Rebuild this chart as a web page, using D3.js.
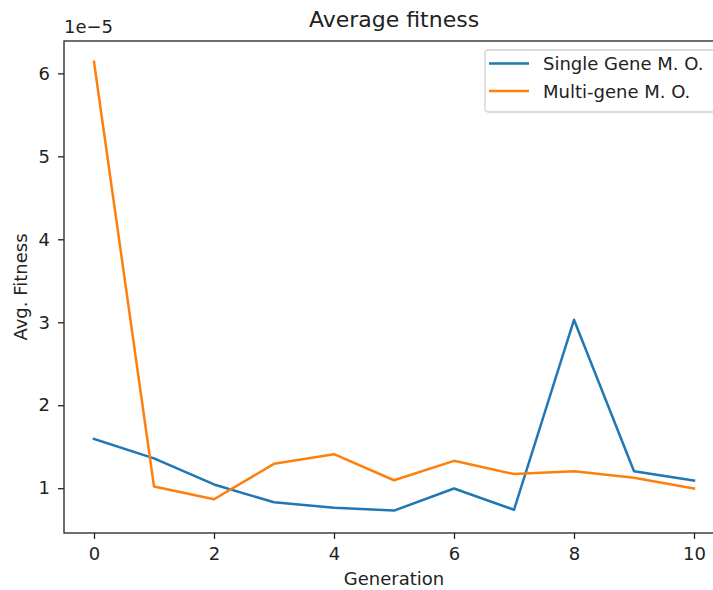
<!DOCTYPE html>
<html>
<head>
<meta charset="utf-8">
<script src="https://cdn.jsdelivr.net/npm/d3@7"></script>
<style>
  body { margin: 0; background: #fff; }
  svg { display: block; font-family: "DejaVu Sans", sans-serif; }
</style>
</head>
<body>
<div id="chart"></div>
<script>
const generations = [0, 1, 2, 3, 4, 5, 6, 7, 8, 9, 10];
// values in units of 1e-5
const singleGene = [1.595, 1.36, 1.045, 0.83, 0.764, 0.73, 0.996, 0.74, 3.03, 1.205, 1.093];
const multiGene = [6.14, 1.02, 0.867, 1.294, 1.41, 1.096, 1.33, 1.17, 1.205, 1.125, 0.996];
const seriesNames = ['Single Gene M. O.', 'Multi-gene M. O.'];
const seriesColors = ['#1f77b4', '#ff7f0e'];
const xTicks = [0, 2, 4, 6, 8, 10];
const yTicks = [1, 2, 3, 4, 5, 6];

const width = 713;
const height = 590;
const margin = { top: 41, right: -11, bottom: 57, left: 64 };
const fontSize = '18px';

const svg = d3.select('#chart')
  .append('svg')
  .attr('width', width)
  .attr('height', height);

const plotLeft = margin.left;
const plotRight = width - margin.right;
const plotTop = margin.top;
const plotBottom = height - margin.bottom;

const xScale = d3.scaleLinear().domain([-0.5, 10.5]).range([plotLeft, plotRight]);
const yScale = d3.scaleLinear().domain([0.46, 6.39]).range([plotBottom, plotTop]);

// Lines
const line = d3.line()
  .x((d, i) => xScale(generations[i]))
  .y((d) => yScale(d));

[singleGene, multiGene].forEach((vals, k) => {
  svg.append('path')
    .datum(vals)
    .attr('fill', 'none')
    .attr('stroke', seriesColors[k])
    .attr('stroke-width', 2.5)
    .attr('stroke-linejoin', 'round')
    .attr('stroke-linecap', 'square')
    .attr('d', line);
});

// Axes
const xAxis = d3.axisBottom(xScale).tickValues(xTicks).tickFormat(d3.format('d'))
  .tickSize(6).tickPadding(8).tickSizeOuter(0);
const yAxis = d3.axisLeft(yScale).tickValues(yTicks).tickFormat(d3.format('d'))
  .tickSize(6).tickPadding(8).tickSizeOuter(0);

const gx = svg.append('g')
  .attr('transform', `translate(0, ${plotBottom})`)
  .call(xAxis);
const gy = svg.append('g')
  .attr('transform', `translate(${plotLeft}, 0)`)
  .call(yAxis);

[gx, gy].forEach((g) => {
  g.select('.domain').remove();
  g.selectAll('.tick line').attr('stroke', '#222').attr('stroke-width', 1.3);
  g.selectAll('.tick text')
    .attr('fill', '#222')
    .style('font-size', fontSize)
    .style('font-family', '"DejaVu Sans", sans-serif');
});

// Spines
svg.append('rect')
  .attr('x', plotLeft)
  .attr('y', plotTop)
  .attr('width', plotRight - plotLeft)
  .attr('height', plotBottom - plotTop)
  .attr('fill', 'none')
  .attr('stroke', '#222')
  .attr('stroke-width', 1.3);

// Offset text
svg.append('text')
  .attr('x', plotLeft)
  .attr('y', 33)
  .attr('fill', '#222')
  .style('font-size', fontSize)
  .text('1e\u22125');

// Title
svg.append('text')
  .attr('x', (plotLeft + plotRight) / 2)
  .attr('y', 27)
  .attr('text-anchor', 'middle')
  .attr('fill', '#222')
  .style('font-size', '22px')
  .text('Average fitness');

// Axis labels
svg.append('text')
  .attr('x', (plotLeft + plotRight) / 2)
  .attr('y', 585)
  .attr('text-anchor', 'middle')
  .attr('fill', '#222')
  .style('font-size', fontSize)
  .text('Generation');

svg.append('text')
  .attr('transform', `translate(27, ${(plotTop + plotBottom) / 2}) rotate(-90)`)
  .attr('text-anchor', 'middle')
  .attr('fill', '#222')
  .style('font-size', fontSize)
  .text('Avg. Fitness');

// Legend
const legend = svg.append('g').attr('transform', 'translate(485, 50)');
legend.append('rect')
  .attr('width', 231)
  .attr('height', 62)
  .attr('rx', 3)
  .attr('fill', 'rgba(255,255,255,0.8)')
  .attr('stroke', '#d0d0d0')
  .attr('stroke-width', 1.3);

seriesNames.forEach((name, i) => {
  const y = 13.5 + i * 27.5;
  legend.append('line')
    .attr('x1', 4).attr('x2', 44)
    .attr('y1', y).attr('y2', y)
    .attr('stroke', seriesColors[i])
    .attr('stroke-width', 2.5);
  legend.append('text')
    .attr('x', 58)
    .attr('y', y + 6.5)
    .attr('fill', '#222')
    .style('font-size', fontSize)
    .text(name);
});
</script>
</body>
</html>
